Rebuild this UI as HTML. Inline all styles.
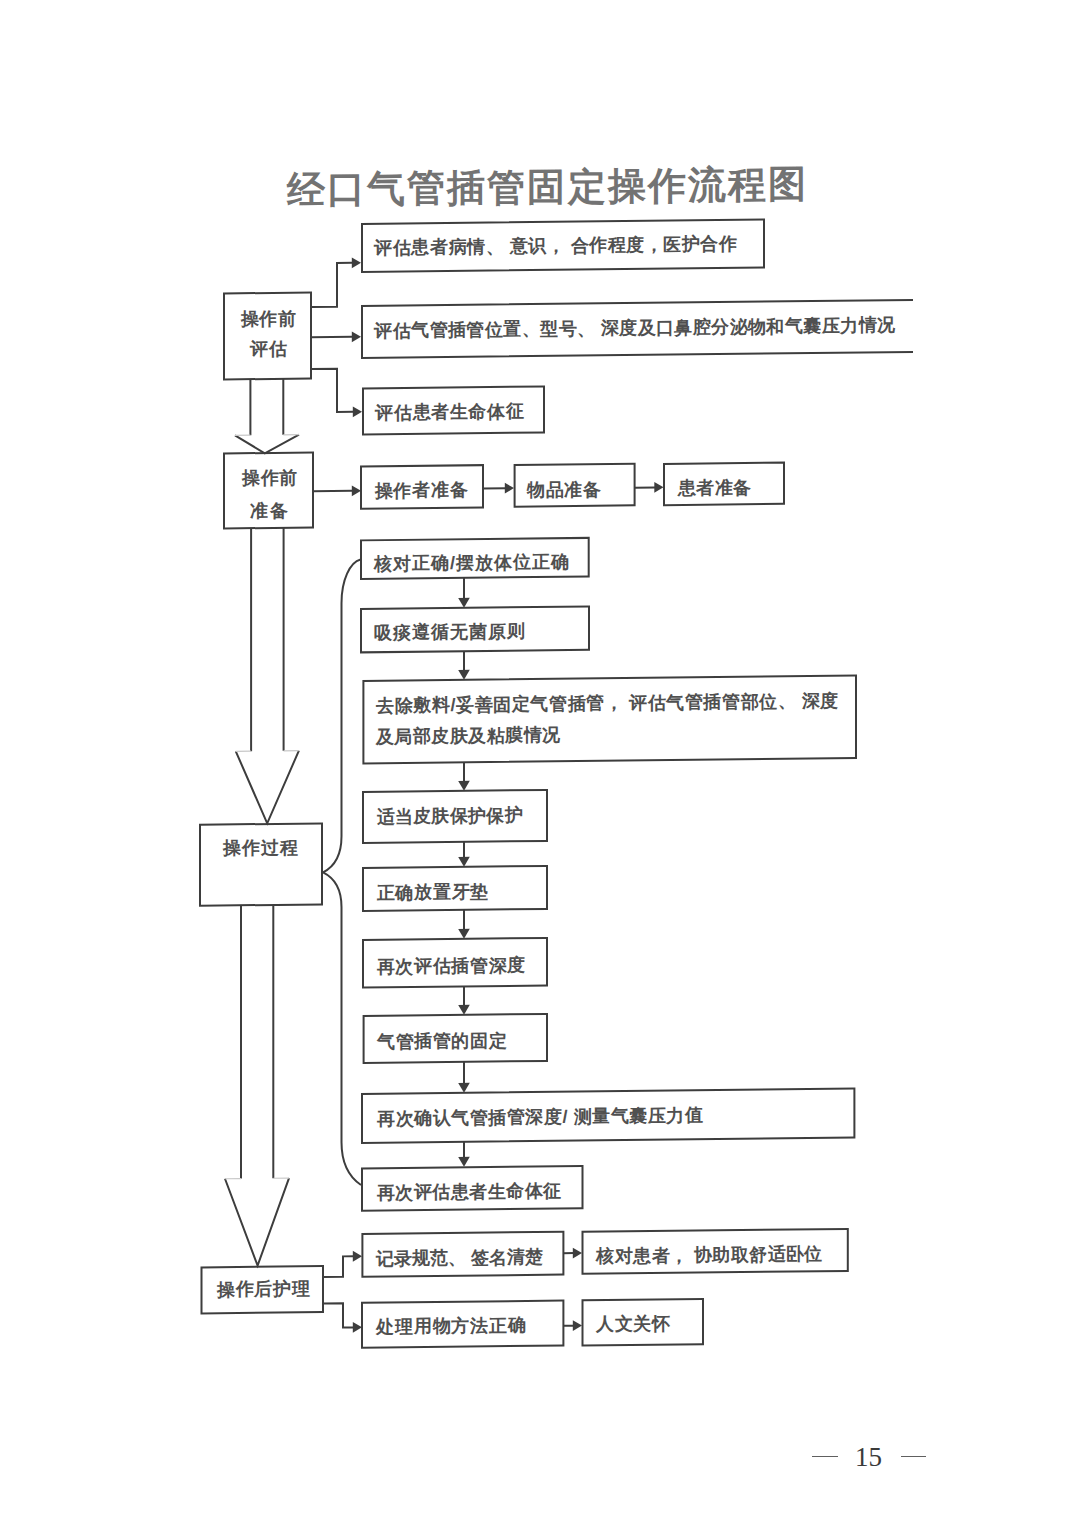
<!DOCTYPE html>
<html><head><meta charset="utf-8"><style>
html,body{margin:0;padding:0;background:#fff;}
#pg{position:relative;width:1080px;height:1527px;overflow:hidden;background:#fff;}
#sk{position:absolute;left:0;top:0;width:1080px;height:1527px;transform:skewY(-0.63deg);transform-origin:540px 0;}
svg{position:absolute;left:0;top:0;}
svg *{fill:none;stroke:#3d3d3d;stroke-width:2.0;}
svg .ah{fill:#3d3d3d;stroke:none;}
svg .sh{stroke:#c8c8c8;stroke-width:1.2;}
.t{position:absolute;white-space:nowrap;line-height:1;font-family:"Liberation Sans",sans-serif;font-weight:bold;color:#505050;}
.ttl{color:#737373;}
.pn{position:absolute;font-family:"Liberation Serif",serif;color:#3a3a3a;white-space:nowrap;line-height:1;}
</style></head><body><div id="pg">
<div id="sk">
<svg width="1080" height="1527" viewBox="0 0 1080 1527">
<rect x="224" y="290" width="87.00" height="86.00"/>
<rect x="362" y="222" width="402.00" height="48.00"/>
<rect x="363" y="386.5" width="181.00" height="46.00"/>
<rect x="224" y="450" width="89.00" height="75.00"/>
<rect x="361" y="464.5" width="122.00" height="42.30"/>
<rect x="514.6" y="464.7" width="120.00" height="41.70"/>
<rect x="664" y="465.3" width="120.00" height="41.20"/>
<rect x="361" y="538.4" width="227.70" height="38.60"/>
<rect x="361" y="607" width="228.00" height="43.40"/>
<rect x="363.4" y="679" width="492.60" height="82.50"/>
<rect x="363" y="790" width="184.00" height="51.00"/>
<rect x="363" y="866" width="184.00" height="43.00"/>
<rect x="363" y="938" width="184.00" height="47.60"/>
<rect x="363.6" y="1014" width="183.40" height="47.00"/>
<rect x="362" y="1092" width="492.40" height="49.00"/>
<rect x="362" y="1166.5" width="220.50" height="42.20"/>
<rect x="200" y="821" width="122.00" height="81.00"/>
<rect x="201.5" y="1263.7" width="121.50" height="46.00"/>
<rect x="362.4" y="1232" width="201.00" height="42.80"/>
<rect x="582.5" y="1232.3" width="265.30" height="42.00"/>
<rect x="362" y="1300.8" width="201.40" height="44.90"/>
<rect x="582.5" y="1300.8" width="120.50" height="45.20"/>
<path d="M913,304 H362 V356 H913"/>
<polyline points="311,304.6 337,304.6 337,260.8 352,260.8"/>
<polyline points="311,334.8 352,334.8"/>
<polyline points="311,366.6 337,366.6 337,409.8 353,409.8"/>
<polyline points="313,488.8 352,488.8"/>
<polyline points="483,487.8 506,487.8"/>
<polyline points="634.6,488.7 655,488.7"/>
<polyline points="323,1274.6 343,1274.6 343,1254.2 354,1254.2"/>
<polyline points="323,1301.1 343,1301.1 343,1325.4 354,1325.4"/>
<polyline points="563.4,1253.4 574,1253.4"/>
<polyline points="563.4,1326 574,1326"/>
<path class="ah" d="M361,260.8 L351.8,255.4 L351.8,266.2 Z"/>
<path class="ah" d="M361,334.8 L351.8,329.40000000000003 L351.8,340.2 Z"/>
<path class="ah" d="M362,409.8 L352.8,404.40000000000003 L352.8,415.2 Z"/>
<path class="ah" d="M361,488.8 L351.8,483.40000000000003 L351.8,494.2 Z"/>
<path class="ah" d="M514,487.8 L504.8,482.40000000000003 L504.8,493.2 Z"/>
<path class="ah" d="M663.5,488.7 L654.3,483.3 L654.3,494.09999999999997 Z"/>
<path class="ah" d="M362,1254.2 L352.8,1248.8 L352.8,1259.6000000000001 Z"/>
<path class="ah" d="M362,1325.4 L352.8,1320.0 L352.8,1330.8000000000002 Z"/>
<path class="ah" d="M582,1253.4 L572.8,1248.0 L572.8,1258.8000000000002 Z"/>
<path class="ah" d="M582,1326 L572.8,1320.6 L572.8,1331.4 Z"/>
<line x1="464" y1="577" x2="464" y2="599"/>
<path class="ah" d="M464,607 L458.2,597 L469.8,597 Z"/>
<line x1="464" y1="650.4" x2="464" y2="671"/>
<path class="ah" d="M464,679 L458.2,669 L469.8,669 Z"/>
<line x1="464" y1="761.5" x2="464" y2="782"/>
<path class="ah" d="M464,790 L458.2,780 L469.8,780 Z"/>
<line x1="464" y1="841" x2="464" y2="858"/>
<path class="ah" d="M464,866 L458.2,856 L469.8,856 Z"/>
<line x1="464" y1="909" x2="464" y2="930"/>
<path class="ah" d="M464,938 L458.2,928 L469.8,928 Z"/>
<line x1="464" y1="985.6" x2="464" y2="1006"/>
<path class="ah" d="M464,1014 L458.2,1004 L469.8,1004 Z"/>
<line x1="464" y1="1061" x2="464" y2="1084"/>
<path class="ah" d="M464,1092 L458.2,1082 L469.8,1082 Z"/>
<line x1="464" y1="1141" x2="464" y2="1158"/>
<path class="ah" d="M464,1166 L458.2,1156 L469.8,1156 Z"/>
<path d="M250.4,376 V432"/><path d="M283.3,376 V432"/><path d="M235,432 L264.8,450.3 L299,432"/><path class="sh" d="M235,432 H250.4 M283.3,432 H299"/>
<path d="M251.1,525 V748"/><path d="M283.6,525 V748"/><path d="M235.8,748 L267.2,820.3 L298.9,748"/><path class="sh" d="M235.8,748 H251.1 M283.6,748 H298.9"/>
<path d="M241,902 V1175.3"/><path d="M273.3,902 V1175.3"/><path d="M225,1175.3 L257.6,1262.5 L289,1175.3"/><path class="sh" d="M225,1175.3 H241 M273.3,1175.3 H289"/>
<path d="M360.5,557.5 C350,560 341.5,578 341.5,601 V834 C341.5,853 335,864 323,870 C335,876 341.5,887 341.5,905 V1140 C341.5,1160 348,1174 361,1183"/>
</svg>
<div class="t ttl" style="left:287.00px;top:168.37px;font-size:38px;letter-spacing:2.083px">经口气管插管固定操作流程图</div>
<div class="t " style="left:240.50px;top:306.76px;font-size:18px;letter-spacing:0.750px">操作前</div>
<div class="t " style="left:250.00px;top:337.36px;font-size:18px;letter-spacing:1.000px">评估</div>
<div class="t " style="left:374.40px;top:237.13px;font-size:18px;letter-spacing:0.530px">评估患者病情、 意识， 合作程度，医护合作</div>
<div class="t " style="left:374.40px;top:319.73px;font-size:18px;letter-spacing:0.414px">评估气管插管位置、型号、 深度及口鼻腔分泌物和气囊压力情况</div>
<div class="t " style="left:375.40px;top:402.04px;font-size:18px;letter-spacing:0.600px">评估患者生命体征</div>
<div class="t " style="left:242.00px;top:466.47px;font-size:18px;letter-spacing:0.500px">操作前</div>
<div class="t " style="left:250.00px;top:499.36px;font-size:18px;letter-spacing:2.000px">准备</div>
<div class="t " style="left:374.60px;top:480.33px;font-size:18px;letter-spacing:0.775px">操作者准备</div>
<div class="t " style="left:527.00px;top:481.21px;font-size:18px;letter-spacing:0.667px">物品准备</div>
<div class="t " style="left:678.00px;top:480.76px;font-size:18px;letter-spacing:0.333px">患者准备</div>
<div class="t " style="left:374.00px;top:553.12px;font-size:18px;letter-spacing:1.000px">核对正确/摆放体位正确</div>
<div class="t " style="left:374.00px;top:621.72px;font-size:18px;letter-spacing:1.000px">吸痰遵循无菌原则</div>
<div class="t " style="left:376.00px;top:694.75px;font-size:18px;letter-spacing:0.596px">去除敷料/妥善固定气管插管， 评估气管插管部位、 深度</div>
<div class="t " style="left:376.00px;top:726.05px;font-size:18px;letter-spacing:0.444px">及局部皮肤及粘膜情况</div>
<div class="t " style="left:376.50px;top:805.85px;font-size:18px;letter-spacing:0.314px">适当皮肤保护保护</div>
<div class="t " style="left:376.50px;top:881.55px;font-size:18px;letter-spacing:0.760px">正确放置牙垫</div>
<div class="t " style="left:376.50px;top:956.15px;font-size:18px;letter-spacing:0.686px">再次评估插管深度</div>
<div class="t " style="left:377.00px;top:1030.86px;font-size:18px;letter-spacing:0.617px">气管插管的固定</div>
<div class="t " style="left:377.00px;top:1107.56px;font-size:18px;letter-spacing:0.556px">再次确认气管插管深度/ 测量气囊压力值</div>
<div class="t " style="left:377.00px;top:1182.06px;font-size:18px;letter-spacing:0.444px">再次评估患者生命体征</div>
<div class="t " style="left:223.00px;top:835.76px;font-size:18px;letter-spacing:1.000px">操作过程</div>
<div class="t " style="left:217.00px;top:1276.70px;font-size:18px;letter-spacing:0.625px">操作后护理</div>
<div class="t " style="left:375.60px;top:1248.24px;font-size:18px;letter-spacing:0.044px">记录规范、 签名清楚</div>
<div class="t " style="left:596.40px;top:1247.97px;font-size:18px;letter-spacing:0.417px">核对患者， 协助取舒适卧位</div>
<div class="t " style="left:376.00px;top:1316.15px;font-size:18px;letter-spacing:0.857px">处理用物方法正确</div>
<div class="t " style="left:596.00px;top:1316.27px;font-size:18px;letter-spacing:0.533px">人文关怀</div>
</div>
<div class="pn" style="left:812px;top:1456.2px;width:26px;height:1.3px;background:#606060"></div>
<div class="pn" style="left:901px;top:1456.2px;width:25px;height:1.3px;background:#606060"></div>
<div class="pn" id="p15" style="left:855px;top:1443.5px;font-size:27px">15</div>
</div></body></html>
